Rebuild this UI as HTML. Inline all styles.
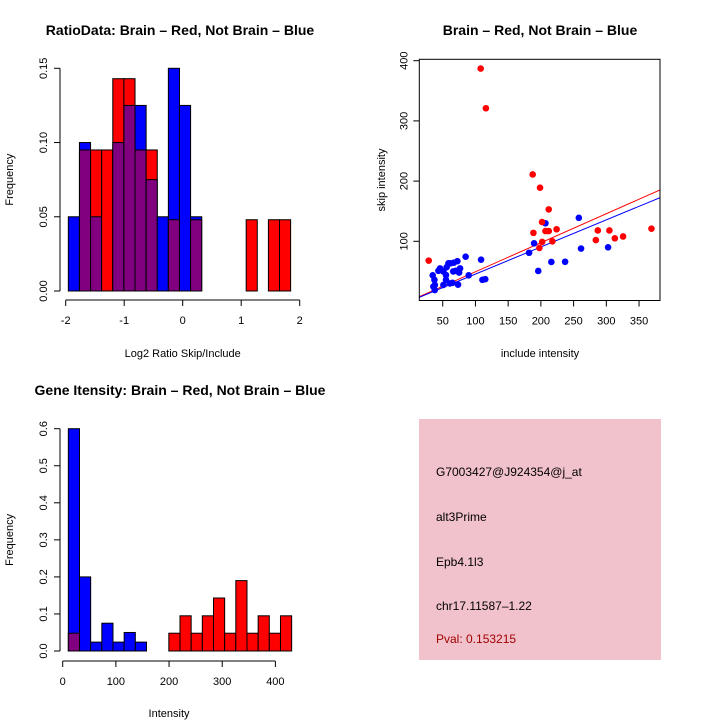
<!DOCTYPE html>
<html><head><meta charset="utf-8"><style>
body{margin:0;background:#fff}
svg{display:block;font-family:"Liberation Sans",sans-serif}
</style></head><body>
<svg id="c" width="720" height="720" xmlns="http://www.w3.org/2000/svg">
<rect x="0" y="0" width="720" height="720" fill="#fff"/>
<text x="180" y="35" text-anchor="middle" font-size="14" font-weight="bold">RatioData: Brain – Red, Not Brain – Blue</text>
<text x="540" y="35" text-anchor="middle" font-size="14" font-weight="bold">Brain – Red, Not Brain – Blue</text>
<text x="180" y="395" text-anchor="middle" font-size="14" font-weight="bold">Gene Itensity: Brain – Red, Not Brain – Blue</text>
<g id="p1"></g>
<g id="p2"></g>
<g id="p3"></g>
<g>
<rect x="419" y="419" width="242" height="241" fill="#f2c2cc"/>
<text x="436" y="476" font-size="12">G7003427@J924354@j_at</text>
<text x="436" y="521" font-size="12">alt3Prime</text>
<text x="436" y="566" font-size="12">Epb4.1l3</text>
<text x="436" y="610" font-size="12">chr17.11587–1.22</text>
<text x="436" y="643" font-size="12" fill="#a00000">Pval: 0.153215</text>
</g>
</svg>
<script>
// Ratio histogram data
const ratioStart = -1.955;
const ratioBinWidth = 0.19;
const ratioBlue = [0.05,0.10,0.05,0,0.10,0.125,0.125,0.075,0.05,0.15,0.125,0.05,0,0,0,0,0,0,0,0];
const ratioRed  = [0,0.095,0.095,0.095,0.143,0.143,0.095,0.095,0,0.048,0,0.048,0,0,0,0,0.048,0,0.048,0.048];
const ratioXTicks = [-2,-1,0,1,2];
const ratioYTicks = ["0.00","0.05","0.10","0.15"];
// Intensity histogram data
const intStart = 10.6;
const intBinWidth = 21;
const intBlue = [0.6,0.2,0.024,0.075,0.024,0.05,0.024,0,0,0,0,0,0,0,0,0,0,0,0,0];
const intRed  = [0.048,0,0,0,0,0,0,0,0,0.048,0.095,0.048,0.095,0.143,0.048,0.19,0.048,0.095,0.048,0.095];
const intXTicks = [0,100,200,300,400];
const intYTicks = ["0.0","0.1","0.2","0.3","0.4","0.5","0.6"];
// Scatter data
const redX = [28.6,108,116,187.5,198.7,212,201.8,188.6,207,212,224,202,217.6,197.7,284,287,304.7,313,325.6,369];
const redY = [67.9,387,321,211,189,153,132,114,117,117,120,99,100,89,102,118,118,105,108,121];
const blueX = [34.7,37.3,38,37.8,43.4,45.9,51,51,55,56,58.7,61,55,62,66,67,70,72.4,75,76.5,73.4,85,89.7,65,35.7,108.6,110.6,115,182,189.6,196,207,216,237,258,261.4,302.7];
const blueY = [43.5,36,27.5,19,51,55,50,27.5,44,57,63.5,30,36,63.5,50,64.5,51,67,48,55,28,74.5,43.5,31,24.7,69.5,36,37,81,96.7,50.7,130,65.7,66,139,88,90];
const redFit = [1.2,0.482];
const blueFit = [0.6,0.45];
const scXTicks = [50,100,150,200,250,300,350];
const scYTicks = [100,200,300,400];

const NS="http://www.w3.org/2000/svg";
function mk(parent,tag,attrs,text){const e=document.createElementNS(NS,tag);for(const k in attrs)e.setAttribute(k,attrs[k]);if(text!==undefined)e.textContent=text;parent.appendChild(e);return e;}

function histogram(g,start,bw,blue,red,xT,yT,xs,ys,axY,axX,xlabel,xLabelY,yTickMax){
  for(let i=0;i<blue.length;i++){
    const b=blue[i],r=red[i];const x0=xs(start+i*bw),x1=xs(start+(i+1)*bw);
    const hi=Math.max(b,r),lo=Math.min(b,r);
    if(hi>0){
      const el=mk(g,'rect',{x:x0,y:ys(hi),width:x1-x0,height:ys(0)-ys(hi),fill:b>=r?'#0000ff':'#ff0000',stroke:'#000','stroke-width':1});
      
      
    }
    if(lo>0){
      const el=mk(g,'rect',{x:x0,y:ys(lo),width:x1-x0,height:ys(0)-ys(lo),fill:'#800080',stroke:'#000','stroke-width':1});
      
      
    }
  }
  const xa=mk(g,'g',{});
  
  
  mk(xa,'line',{x1:xs(xT[0]),x2:xs(xT[xT.length-1]),y1:axY,y2:axY,stroke:'#000'});
  xT.forEach(t=>{mk(xa,'line',{x1:xs(t),x2:xs(t),y1:axY,y2:axY+6,stroke:'#000'});
    const tl=mk(xa,'text',{x:xs(t),y:axY+24,'text-anchor':'middle','font-size':11},String(t));
    
    });
  const xl=mk(g,'text',{x:(xs(xT[0])+xs(xT[xT.length-1]))/2,y:xLabelY,'text-anchor':'middle','font-size':11},xlabel);
  
  
  const ya=mk(g,'g',{});
  
  
  mk(ya,'line',{x1:axX,x2:axX,y1:ys(0),y2:ys(yTickMax),stroke:'#000'});
  yT.forEach(t=>{const v=parseFloat(t);mk(ya,'line',{x1:axX,x2:axX-6,y1:ys(v),y2:ys(v),stroke:'#000'});
    const tl=mk(ya,'text',{x:axX-13,y:ys(v),'text-anchor':'middle','font-size':11,transform:`rotate(-90 ${axX-13} ${ys(v)})`},t);
    
    });
  const yc=(ys(0)+ys(yTickMax))/2;
  const yl=mk(g,'text',{x:13,y:yc,'text-anchor':'middle','font-size':11,transform:`rotate(-90 13 ${yc})`},'Frequency');
  
  
}

// Plot 1
histogram(document.getElementById('p1'),ratioStart,ratioBinWidth,ratioBlue,ratioRed,ratioXTicks,ratioYTicks,
  v=>182.7+v*58.5, v=>291-v*(222.7/0.15), 300, 60, 'Log2 Ratio Skip/Include', 357, 0.15);
// Plot 3
histogram(document.getElementById('p3'),intStart,intBinWidth,intBlue,intRed,intXTicks,intYTicks,
  v=>62.7+v*0.5317, v=>651-v*(222.3/0.6), 661, 60, 'Intensity', 717, 0.6);

// Plot 2 scatter
(function(){
  const g=document.getElementById('p2');
  const xs=v=>410+v*0.6544, ys=v=>301.5-v*0.602;
  const L=419.3,R=660,T=59.3,B=300.5;
  const clip=mk(g,'clipPath',{id:'scclip'});mk(clip,'rect',{x:L,y:T,width:R-L,height:B-T});
  [[redFit,'#ff0000','red-fit-line'],[blueFit,'#0000ff','blue-fit-line']].forEach(([f,c,n])=>{
    const x0=0,x1=400;
    const l=mk(g,'line',{x1:xs(x0),y1:ys(f[0]+f[1]*x0),x2:xs(x1),y2:ys(f[0]+f[1]*x1),stroke:c,'stroke-width':1,'clip-path':'url(#scclip)'});
    
    
  });
  blueX.forEach((x,i)=>{const p=mk(g,'circle',{cx:xs(x),cy:ys(blueY[i]),r:3.3,fill:'#0000ff'});
    
    });
  redX.forEach((x,i)=>{const p=mk(g,'circle',{cx:xs(x),cy:ys(redY[i]),r:3.3,fill:'#ff0000'});
    
    });
  const box=mk(g,'rect',{x:L,y:T,width:R-L,height:B-T,fill:'none',stroke:'#000'});
  
  
  scXTicks.forEach(t=>{mk(g,'line',{x1:xs(t),x2:xs(t),y1:B,y2:B+6,stroke:'#000'});
    const tl=mk(g,'text',{x:xs(t),y:B+24,'text-anchor':'middle','font-size':11},String(t));
    
    });
  scYTicks.forEach(t=>{mk(g,'line',{x1:L,x2:L-6,y1:ys(t),y2:ys(t),stroke:'#000'});
    const tl=mk(g,'text',{x:L-12,y:ys(t),'text-anchor':'middle','font-size':11,transform:`rotate(-90 ${L-12} ${ys(t)})`},String(t));
    
    });
  const xl=mk(g,'text',{x:540,y:357,'text-anchor':'middle','font-size':11},'include intensity');
  
  
  const yl=mk(g,'text',{x:385,y:180,'text-anchor':'middle','font-size':11,transform:'rotate(-90 385 180)'},'skip intensity');
  
  
})();
</script>
</body></html>
